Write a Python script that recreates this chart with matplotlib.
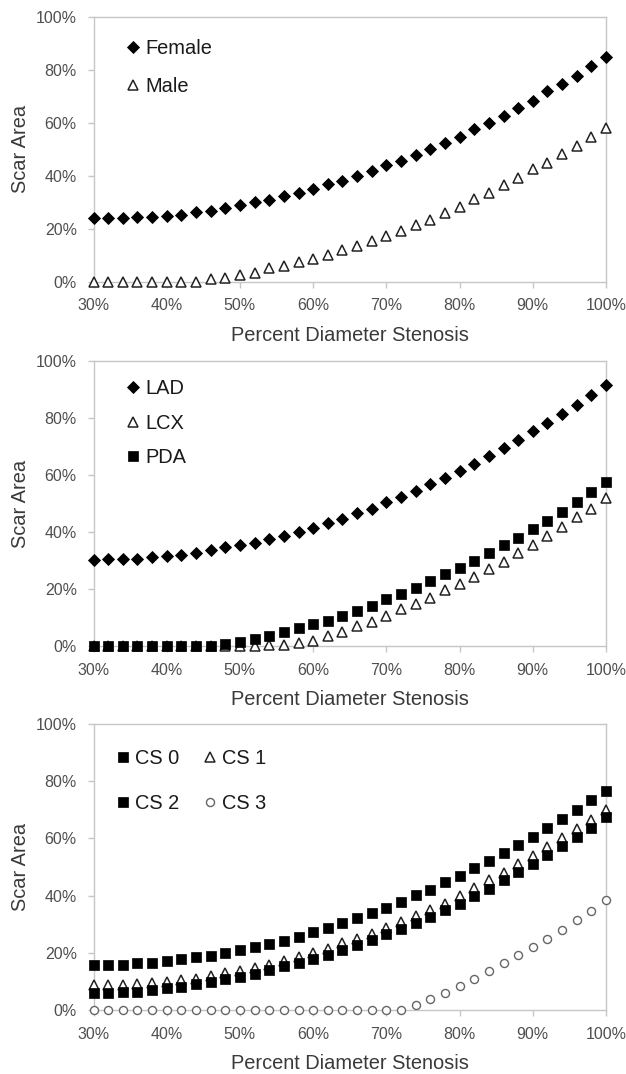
import matplotlib
matplotlib.use("Agg")
import matplotlib.pyplot as plt
from matplotlib.ticker import PercentFormatter

plt.rcParams['font.family'] = ['Liberation Sans', 'DejaVu Sans']

# Percent diameter stenosis grid (x axis)
stenosis = [30, 32, 34, 36, 38, 40, 42, 44, 46, 48, 50, 52, 54, 56, 58, 60, 62, 64,
            66, 68, 70, 72, 74, 76, 78, 80, 82, 84, 86, 88, 90, 92, 94, 96, 98, 100]

# Panel 1: sex
female = [24.1, 24.1, 24.1, 24.4, 24.4, 24.9, 25.3, 26.2, 26.8, 27.8, 28.9, 29.9,
          30.8, 32.2, 33.5, 35.1, 36.7, 38.0, 39.9, 41.8, 43.9, 45.6, 47.7, 50.0,
          52.5, 54.7, 57.5, 60.1, 62.7, 65.6, 68.4, 71.9, 74.7, 77.8, 81.4, 84.8]
male = [0.0, 0.0, 0.0, 0.0, 0.0, 0.0, 0.0, 0.0, 1.0, 1.5, 2.3, 3.2,
        5.1, 5.7, 7.2, 8.5, 9.9, 12.0, 13.5, 15.4, 17.3, 19.0, 21.5, 23.4,
        25.9, 28.2, 31.3, 33.3, 36.3, 39.2, 42.4, 44.9, 48.1, 51.3, 54.7, 58.0]

# Panel 2: territory
lad = [30.1, 30.5, 30.5, 30.5, 31.1, 31.5, 31.9, 32.8, 33.6, 34.6, 35.4, 36.3,
       37.5, 38.6, 40.1, 41.5, 43.0, 44.7, 46.5, 48.0, 50.4, 52.3, 54.3, 56.7,
       58.8, 61.4, 64.0, 66.7, 69.5, 72.2, 75.4, 78.3, 81.3, 84.5, 88.0, 91.5]
lcx = [0.0, 0.0, 0.0, 0.0, 0.0, 0.0, 0.0, 0.0, 0.0, 0.0, 0.0, 0.0,
       0.2, 0.4, 0.9, 1.9, 3.6, 4.8, 7.0, 8.5, 10.6, 12.9, 14.6, 16.9,
       19.6, 21.6, 24.1, 27.0, 29.6, 32.8, 35.4, 38.7, 41.8, 45.3, 48.2, 51.8]
pda = [0.0, 0.0, 0.0, 0.0, 0.0, 0.0, 0.0, 0.0, 0.0, 0.7, 1.5, 2.3,
       3.5, 5.0, 6.4, 7.6, 8.9, 10.6, 12.4, 14.1, 16.5, 18.1, 20.4, 22.8,
       25.2, 27.5, 29.9, 32.7, 35.4, 38.0, 40.9, 44.0, 47.1, 50.4, 53.9, 57.4]

# Panel 3: calcium score group
cs0 = [15.7, 15.7, 15.7, 16.3, 16.6, 17.2, 17.8, 18.6, 19.0, 19.8, 20.9, 22.1,
       23.0, 24.2, 25.6, 27.3, 28.5, 30.5, 32.0, 34.0, 35.8, 37.8, 40.1, 42.1,
       44.8, 46.9, 49.7, 52.1, 54.9, 57.8, 60.5, 63.6, 66.9, 70.1, 73.6, 76.7]
cs1 = [8.7, 8.7, 8.7, 9.1, 9.3, 9.9, 10.5, 11.0, 12.0, 12.8, 13.6, 14.8,
       15.7, 17.2, 18.4, 19.8, 21.5, 23.3, 24.7, 26.7, 28.5, 30.6, 32.8, 34.9,
       37.2, 39.9, 42.7, 45.3, 48.0, 50.9, 53.8, 57.0, 60.1, 63.4, 66.5, 69.8]
cs2 = [5.8, 5.8, 6.4, 6.4, 7.0, 7.6, 8.1, 9.0, 9.9, 10.7, 11.6, 12.6,
       14.0, 15.3, 16.3, 17.8, 19.2, 20.9, 22.7, 24.4, 26.4, 28.3, 30.5, 32.6,
       35.1, 37.2, 39.8, 42.4, 45.6, 48.3, 51.2, 54.3, 57.3, 60.5, 63.7, 67.4]
cs3 = [0.0, 0.0, 0.0, 0.0, 0.0, 0.0, 0.0, 0.0, 0.0, 0.0, 0.0, 0.0,
       0.0, 0.0, 0.0, 0.0, 0.0, 0.0, 0.0, 0.0, 0.0, 0.0, 1.7, 3.7,
       5.8, 8.4, 11.0, 13.6, 16.3, 19.4, 22.1, 25.0, 27.9, 31.4, 34.7, 38.4]

x_ticks = [30, 40, 50, 60, 70, 80, 90, 100]
y_ticks = [0, 20, 40, 60, 80, 100]
x_label = "Percent Diameter Stenosis"
y_label = "Scar Area"

# marker styles (matplotlib points)
STYLES = {
    'diamond': dict(marker='D', ms=6.0, mfc='black', mec='black', mew=0.6),
    'triangle': dict(marker='^', ms=6.8, mfc='white', mec='#222222', mew=1.1),
    'square': dict(marker='s', ms=6.5, mfc='black', mec='black', mew=0.5),
    'circle': dict(marker='o', ms=5.8, mfc='white', mec='#666666', mew=1.0),
}

TICK_COLOR = '#4f4f4f'
LABEL_COLOR = '#3a3a3a'
SPINE_COLOR = '#c6c6c6'

fig = plt.figure(figsize=(6.26, 10.74), dpi=100)
W, H = 626.0, 1074.0


def make_axes(left, right, top, bottom):
    return fig.add_axes([left / W, 1 - bottom / H, (right - left) / W, (bottom - top) / H])


def style_axes(ax):
    ax.set_xlim(30, 100)
    ax.set_ylim(0, 100)
    ax.set_xticks(x_ticks)
    ax.set_yticks(y_ticks)
    ax.xaxis.set_major_formatter(PercentFormatter(decimals=0))
    ax.yaxis.set_major_formatter(PercentFormatter(decimals=0))
    for s in ax.spines.values():
        s.set_color(SPINE_COLOR)
        s.set_linewidth(1.0)
    ax.tick_params(axis='both', direction='out', length=4, width=1.0,
                   color=SPINE_COLOR, labelsize=11.5, labelcolor=TICK_COLOR)
    ax.tick_params(axis='y', pad=8)
    ax.tick_params(axis='x', pad=8)
    ax.set_xlabel(x_label, fontsize=14.4, color=LABEL_COLOR, labelpad=9)
    ax.set_ylabel(y_label, fontsize=14.4, color=LABEL_COLOR)
    ax.yaxis.set_label_coords(-0.124, 0.5)


def plot_series(ax, y, style, label):
    return ax.plot(stenosis, y, linestyle='none', clip_on=False, label=label,
                   zorder=3, **STYLES[style])[0]


def add_legend(ax, handles, anchor, spacing, ncol=1, colspacing=1.3):
    leg = ax.legend(handles=handles, loc='upper left', bbox_to_anchor=anchor,
                    frameon=False, fontsize=14.4, handlelength=0.6,
                    handletextpad=0.3, borderpad=0, borderaxespad=0,
                    labelspacing=spacing, ncol=ncol, columnspacing=colspacing)
    for t in leg.get_texts():
        t.set_color('#1a1a1a')
    return leg


# Panel 1
ax1 = make_axes(93.5, 606, 17, 281.5)
style_axes(ax1)
h_f = plot_series(ax1, female, 'diamond', 'Female')
h_m = plot_series(ax1, male, 'triangle', 'Male')
add_legend(ax1, [h_f, h_m], (0.066, 0.915), 0.95)

# Panel 2
ax2 = make_axes(93.5, 606, 361, 646)
style_axes(ax2)
h_lad = plot_series(ax2, lad, 'diamond', 'LAD')
h_lcx = plot_series(ax2, lcx, 'triangle', 'LCX')
h_pda = plot_series(ax2, pda, 'square', 'PDA')
add_legend(ax2, [h_lad, h_lcx, h_pda], (0.066, 0.936), 0.77)

# Panel 3
ax3 = make_axes(93.5, 606, 724, 1010)
style_axes(ax3)
h0 = plot_series(ax3, cs0, 'square', 'CS 0')
h1 = plot_series(ax3, cs1, 'triangle', 'CS 1')
h2 = plot_series(ax3, cs2, 'square', 'CS 2')
h3 = plot_series(ax3, cs3, 'circle', 'CS 3')
add_legend(ax3, [h0, h2, h1, h3], (0.045, 0.912), 1.3, ncol=2, colspacing=1.25)

fig.savefig('out.png', dpi=100, facecolor='white')
